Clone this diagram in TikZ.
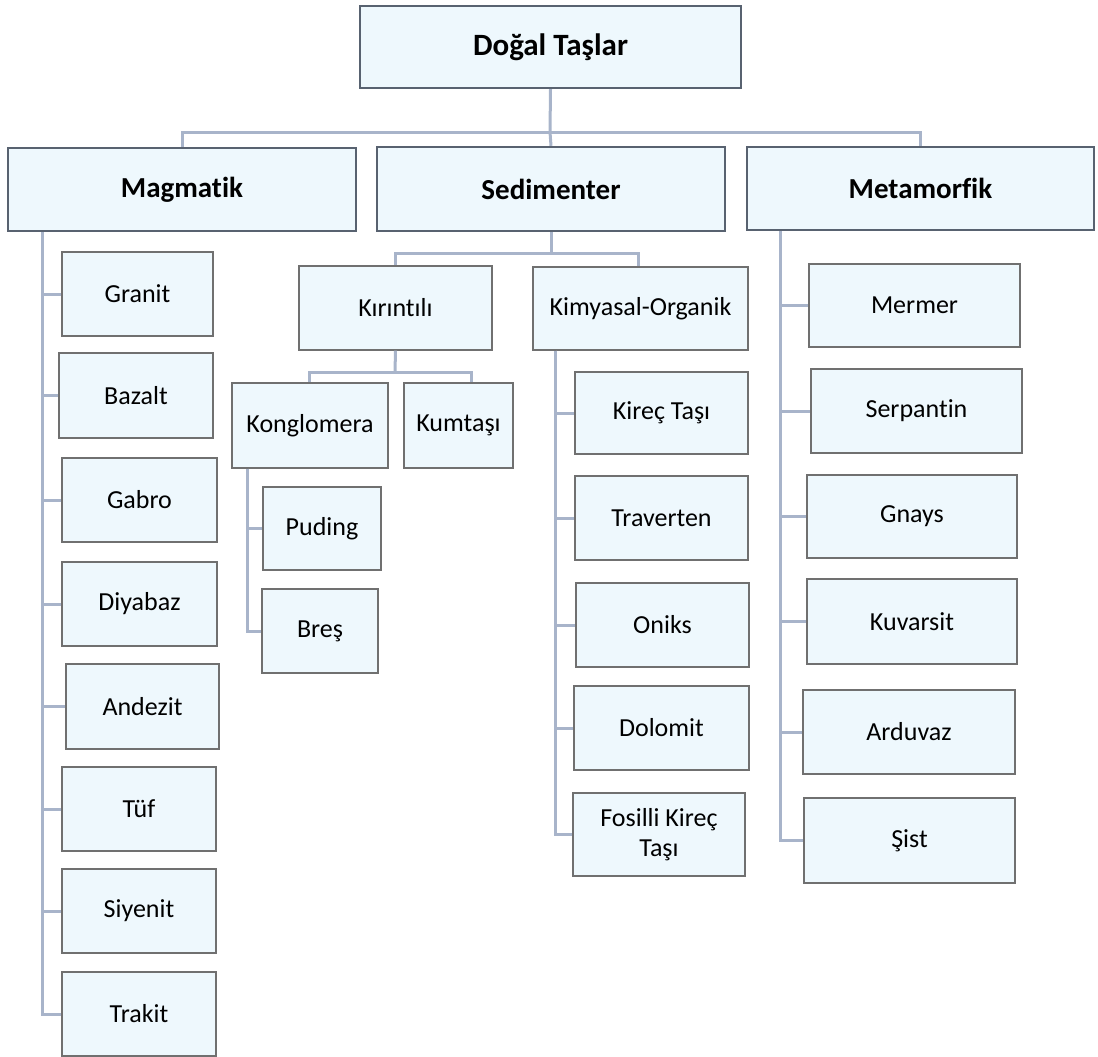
\documentclass[tikz,border=0pt]{standalone}
\usepackage{fontspec}
\setmainfont{Carlito}[Ligatures=CommonOff]
\definecolor{boxfill}{RGB}{238,248,253}
\definecolor{boxline}{RGB}{112,112,112}
\definecolor{headline}{RGB}{88,98,112}
\definecolor{linkcol}{RGB}{168,180,202}
\tikzstyle{box}=[draw=boxline, fill=boxfill, line width=1.3pt, inner sep=0pt, align=center, font=\fontsize{26}{30}\selectfont]
\tikzstyle{head}=[box, draw=headline, line width=2.4pt, font=\bfseries\fontsize{29}{34}\selectfont]
\tikzstyle{link}=[draw=linkcol, line width=3pt]

\begin{document}
\begin{tikzpicture}[x=1pt, y=-1pt]
\useasboundingbox (0,0) rectangle (1098,1057);
% Connectors
    \coordinate (hub) at (550,132);
    \coordinate (sedhub) at (551,253);
    \coordinate (kirhub) at (395,372);
% Headings
    \node[head, minimum width=381pt, minimum height=82pt, font=\bfseries\fontsize{31}{36}\selectfont] (dogal) at (550.5,47) {Doğal Taşlar};
    \node[head, minimum width=348pt, minimum height=83pt] (magmatik) at (182,189.5) {Magmatik};
    \node[head, minimum width=348pt, minimum height=84pt] (sedimenter) at (551,189) {Sedimenter};
    \node[head, minimum width=347pt, minimum height=83pt] (metamorfik) at (920.5,188.5) {Metamorfik};
% Magmatik
    \node[box, minimum width=151pt, minimum height=84pt] (granit) at (137.5,294) {Granit};
    \node[box, minimum width=154pt, minimum height=85pt] (bazalt) at (136,395.5) {Bazalt};
    \node[box, minimum width=155pt, minimum height=84pt] (gabro) at (139.5,500) {Gabro};
    \node[box, minimum width=155pt, minimum height=84pt] (diyabaz) at (139.5,604) {Diyabaz};
    \node[box, minimum width=153pt, minimum height=85pt] (andezit) at (142.5,706.5) {Andezit};
    \node[box, minimum width=154pt, minimum height=84pt] (tuf) at (139,809) {Tüf};
    \node[box, minimum width=154pt, minimum height=84pt] (siyenit) at (139,911) {Siyenit};
    \node[box, minimum width=154pt, minimum height=84pt] (trakit) at (139,1014) {Trakit};
% Sedimenter
    \node[box, minimum width=193pt, minimum height=84pt] (kirintili) at (395.5,308) {Kırıntılı};
    \node[box, minimum width=215pt, minimum height=83pt] (kimyasal) at (640.5,308.5) {Kimyasal-Organik};
    \node[box, minimum width=156pt, minimum height=85pt] (konglomera) at (310,425.5) {Konglomera};
    \node[box, minimum width=109pt, minimum height=85pt] (kumtasi) at (458.5,425.5) {Kumtaşı};
    \node[box, minimum width=118pt, minimum height=83pt] (puding) at (322,528.5) {Puding};
    \node[box, minimum width=116pt, minimum height=84pt] (bres) at (320,631) {Breş};
    \node[box, minimum width=173pt, minimum height=82pt] (kirec) at (661.5,413) {Kireç Taşı};
    \node[box, minimum width=173pt, minimum height=84pt] (traverten) at (661.5,518) {Traverten};
    \node[box, minimum width=173pt, minimum height=84pt] (oniks) at (662.5,625) {Oniks};
    \node[box, minimum width=175pt, minimum height=84pt] (dolomit) at (661.5,728) {Dolomit};
    \node[box, minimum width=172pt, minimum height=83pt] (fosilli) at (659,834.5) {Fosilli Kireç\\Taşı};
% Metamorfik
    \node[box, minimum width=211pt, minimum height=83pt] (mermer) at (914.5,305.5) {Mermer};
    \node[box, minimum width=211pt, minimum height=84pt] (serpantin) at (916.5,411) {Serpantin};
    \node[box, minimum width=210pt, minimum height=83pt] (gnays) at (912,516.5) {Gnays};
    \node[box, minimum width=210pt, minimum height=85pt] (kuvarsit) at (912,621.5) {Kuvarsit};
    \node[box, minimum width=212pt, minimum height=84pt] (arduvaz) at (909,732) {Arduvaz};
    \node[box, minimum width=211pt, minimum height=85pt] (sist) at (909.5,840.5) {Şist};
% Top links
    \draw[link] (dogal.south) -- (hub);
    \draw[link] (hub) -| (magmatik.north);
    \draw[link] (hub) -- (sedimenter.north);
    \draw[link] (hub) -| (metamorfik.north);
% Magmatik links
    \draw[link] ([xshift=36pt]magmatik.south west) |- (granit.west);
    \draw[link] ([xshift=36pt]magmatik.south west) |- (bazalt.west);
    \draw[link] ([xshift=36pt]magmatik.south west) |- (gabro.west);
    \draw[link] ([xshift=36pt]magmatik.south west) |- (diyabaz.west);
    \draw[link] ([xshift=36pt]magmatik.south west) |- (andezit.west);
    \draw[link] ([xshift=36pt]magmatik.south west) |- (tuf.west);
    \draw[link] ([xshift=36pt]magmatik.south west) |- (siyenit.west);
    \draw[link] ([xshift=36pt]magmatik.south west) |- (trakit.west);
% Sedimenter links
    \draw[link] (sedimenter.south) -- (sedhub);
    \draw[link] (sedhub) -| (kirintili.north);
    \draw[link] (sedhub) -| ([xshift=-2.5pt]kimyasal.north);
    \draw[link] (kirintili.south) -- (kirhub);
    \draw[link] (kirhub) -| ([xshift=-1pt]konglomera.north);
    \draw[link] (kirhub) -| ([xshift=13pt]kumtasi.north);
    \draw[link] ([xshift=16pt]konglomera.south west) |- (puding.west);
    \draw[link] ([xshift=16pt]konglomera.south west) |- (bres.west);
    \draw[link] ([xshift=23pt]kimyasal.south west) |- (kirec.west);
    \draw[link] ([xshift=23pt]kimyasal.south west) |- (traverten.west);
    \draw[link] ([xshift=23pt]kimyasal.south west) |- (oniks.west);
    \draw[link] ([xshift=23pt]kimyasal.south west) |- (dolomit.west);
    \draw[link] ([xshift=23pt]kimyasal.south west) |- (fosilli.west);
% Metamorfik links
    \draw[link] ([xshift=35pt]metamorfik.south west) |- (mermer.west);
    \draw[link] ([xshift=35pt]metamorfik.south west) |- (serpantin.west);
    \draw[link] ([xshift=35pt]metamorfik.south west) |- (gnays.west);
    \draw[link] ([xshift=35pt]metamorfik.south west) |- (kuvarsit.west);
    \draw[link] ([xshift=35pt]metamorfik.south west) |- (arduvaz.west);
    \draw[link] ([xshift=35pt]metamorfik.south west) |- (sist.west);
\end{tikzpicture}
\end{document}
